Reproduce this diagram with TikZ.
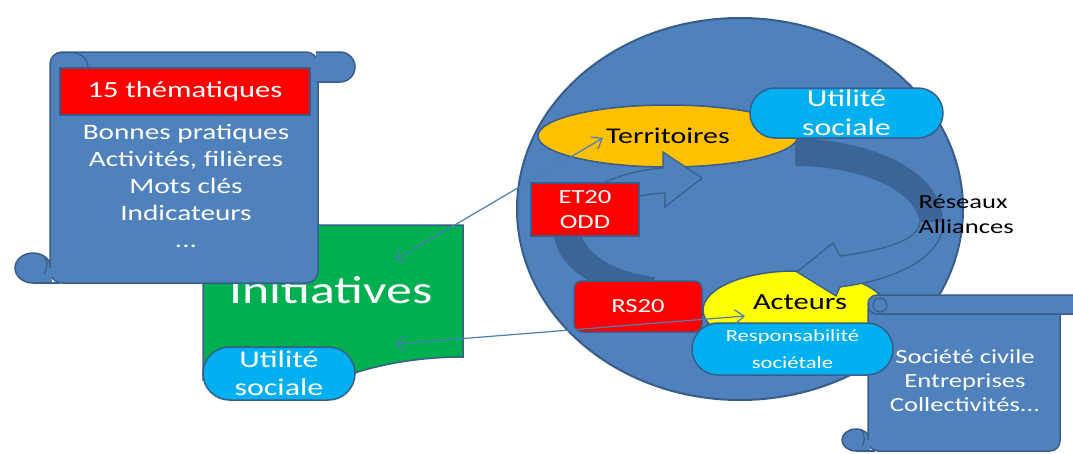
\documentclass[tikz,border=0pt]{standalone}
\usepackage{fontspec}
\setmainfont{Carlito}[FakeStretch=1.33]
\usetikzlibrary{shapes.geometric,shapes.misc,arrows.meta}
\definecolor{scrollblue}{HTML}{4F81BD}
\definecolor{edgeblue}{HTML}{385D8A}
\definecolor{bandblue}{HTML}{3C6496}
\definecolor{pillblue}{HTML}{00B0F0}
\definecolor{linkblue}{HTML}{4A7EBB}
\definecolor{boxred}{HTML}{FF0000}
\definecolor{initgreen}{HTML}{00B050}
\definecolor{terrorange}{HTML}{FFC000}
\definecolor{actyellow}{HTML}{FFFF00}
\tikzstyle{scroll}=[fill=scrollblue, draw=edgeblue, line width=1.5pt]
\tikzstyle{curl}=[draw=edgeblue, line width=1.2pt]
\tikzstyle{band}=[fill=bandblue]
\tikzstyle{bandfront}=[fill=scrollblue, draw=edgeblue, line width=1.2pt]
\tikzstyle{redbox}=[fill=boxred, draw=edgeblue, line width=1.5pt, text=white, align=center, inner sep=0pt]
\tikzstyle{pill}=[rounded rectangle, fill=pillblue, draw=edgeblue, line width=1.5pt, text=white, align=center, inner sep=0pt]
\tikzstyle{link}=[draw=linkblue, line width=1.2pt, {Straight Barb[length=9pt,width=14pt]}-{Straight Barb[length=9pt,width=14pt]}]

\begin{document}
\begin{tikzpicture}[x=1pt, y=-1pt]
\clip (0,0) rectangle (1073,453);
% Initiatives
    \draw[fill=initgreen, draw=edgeblue, line width=1.5pt] (203,225) -- (463,225) -- (463,357)
        .. controls (420,357) and (375,364) .. (335,380) -- (203,380) -- cycle;
    \node[text=white, font=\fontsize{39}{45}\selectfont, anchor=base] (init) at (331,303) {Initiatives};
    \node[pill, minimum width=152pt, minimum height=53pt, font=\fontsize{24}{28}\selectfont] (initus) at (279,373.5) {Utilité\\sociale};

% Scroll, thematiques
    \draw[scroll] (33,268) ellipse (18 and 15);
    \draw[scroll, rounded corners=12pt] (50,52) rectangle (318,283);
    \fill[scrollblue] (30,268) rectangle (52,282.2);
    \draw[curl] (33,283) -- (60,283);
    \draw[curl] (44,256) .. controls (48,262) and (48,268) .. (44,274);
    \filldraw[scroll] (316,52) -- (340,52) arc(-90:90:15) -- (316,82);
    \draw[curl] (62,53) .. controls (80,50) and (88,58) .. (88,68);
    \node[redbox, minimum width=250pt, minimum height=47pt, font=\fontsize{23}{27}\selectfont] (them) at (185,91.5) {15 thématiques};
    \node[text=white, align=center, font=\fontsize{22}{27}\selectfont] (themlist) at (186,186) {Bonnes pratiques\\Activités, filières\\Mots clés\\Indicateurs\\...};

% Circle
    \draw[scroll, line width=2pt] (740,209) ellipse (223 and 191);
% Arrows, back
    \fill[band] (553,220) .. controls (550,262) and (585,290) .. (650,300) -- (655,277)
        .. controls (610,272) and (578,250) .. (578,220) -- cycle;
    \fill[band] (795,138) .. controls (870,140) and (945,170) .. (943,225) -- (920,225)
        .. controls (918,190) and (860,166) .. (795,166) -- cycle;
% Territoires, Acteurs
    \node[ellipse, fill=terrorange, draw=edgeblue, line width=1.5pt, minimum width=260pt, minimum height=62pt, inner sep=0pt, font=\fontsize{22.5}{27}\selectfont] (terr) at (668,136) {Territoires};
    \node[ellipse, fill=actyellow, draw=edgeblue, line width=1.5pt, minimum width=184pt, minimum height=78pt] (act) at (795,310) {};
% Arrows, front
    \filldraw[bandfront] (585,192) .. controls (610,178) and (635,170) .. (663,168) -- (663,152) -- (702,178)
        -- (665,207) -- (665,193) .. controls (640,194) and (620,200) .. (600,212);
    \filldraw[bandfront] (943,222) .. controls (943,258) and (895,280) .. (840,287) -- (836,296) -- (797,272)
        -- (833,243) -- (840,256) .. controls (885,250) and (919,240) .. (920,222);
    \node[font=\fontsize{23}{27}\selectfont] (acttxt) at (800,302) {Acteurs};

% Boxes in the circle
    \node[pill, minimum width=193pt, minimum height=50pt, font=\fontsize{24}{29}\selectfont] (terrus) at (846.5,113) {Utilité\\sociale};
    \node[redbox, minimum width=108pt, minimum height=53pt, font=\fontsize{20}{25}\selectfont] (et) at (585,209.5) {ET20\\ODD};
    \node[redbox, rounded corners=8pt, minimum width=128pt, minimum height=51pt, font=\fontsize{20}{24}\selectfont] (rs) at (638,306.5) {RS20};
    \node[anchor=west, align=left, font=\fontsize{20}{25}\selectfont] (res) at (915,214.5) {Réseaux\\Alliances};

% Scroll, acteurs
    \draw[scroll] (856,440) ellipse (14 and 11);
    \draw[scroll, rounded corners=10pt] (868,300) rectangle (1060,451);
    \fill[scrollblue] (853,440) rectangle (870,450.2);
    \draw[curl] (856,451) -- (875,451);
    \draw[curl] (862,431) .. controls (865,436) and (865,442) .. (862,446);
    \draw[scroll, rounded corners=9pt] (868,295) rectangle (1110,314);
    \draw[curl] (880,305) circle (7);
    \node[pill, minimum width=201pt, minimum height=52pt, font=\fontsize{17}{27}\selectfont] (actrs) at (792.5,349) {Responsabilité\\sociétale};
    \node[text=white, align=center, font=\fontsize{20}{24}\selectfont] (actlist) at (965,381) {Société civile\\Entreprises\\Collectivités...};

% Links
    \coordinate (iniA) at (395,260);
    \coordinate (terA) at (603,138);
    \coordinate (iniB) at (395,344);
    \coordinate (actA) at (745,316);
    \draw[link] (iniA) -- (terA);
    \draw[link] (iniB) -- (actA);

\end{tikzpicture}
\end{document}
